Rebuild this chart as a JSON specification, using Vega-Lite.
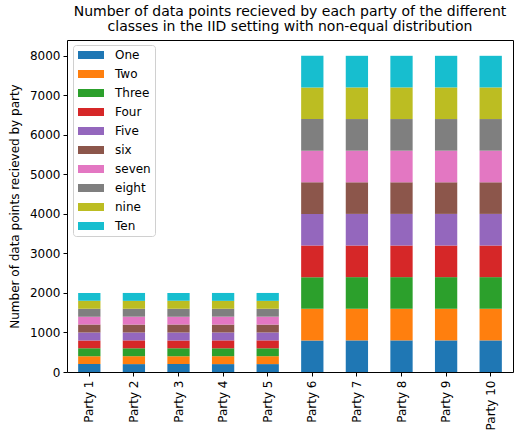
{
  "$schema": "https://vega.github.io/schema/vega-lite/v6.json",
  "width": 446,
  "height": 332,
  "autosize": {"type": "none"},
  "padding": {"left": 67, "top": 40, "right": 7, "bottom": 65},
  "background": "white",
  "config": {
    "font": "DejaVu Sans",
    "view": {"stroke": "black", "strokeWidth": 1},
    "axis": {"labelFont": "DejaVu Sans", "titleFont": "DejaVu Sans", "labelColor": "black", "titleColor": "black", "tickColor": "black", "domainColor": "black", "grid": false, "labelFontSize": 12, "titleFontSize": 12, "titleFontWeight": "normal"}
  },
  "title": {
    "text": ["Number of data points recieved by each party of the different", "classes in the IID setting with non-equal distribution"],
    "fontSize": 14, "fontWeight": "normal", "font": "DejaVu Sans", "color": "black", "anchor": "middle", "offset": 6, "lineHeight": 15
  },
  "data": {
    "values": [
      {"party":"Party 1","cls":"One","k":1,"n":200},{"party":"Party 1","cls":"Two","k":2,"n":200},{"party":"Party 1","cls":"Three","k":3,"n":200},{"party":"Party 1","cls":"Four","k":4,"n":200},{"party":"Party 1","cls":"Five","k":5,"n":200},{"party":"Party 1","cls":"six","k":6,"n":200},{"party":"Party 1","cls":"seven","k":7,"n":200},{"party":"Party 1","cls":"eight","k":8,"n":200},{"party":"Party 1","cls":"nine","k":9,"n":200},{"party":"Party 1","cls":"Ten","k":10,"n":200},
      {"party":"Party 2","cls":"One","k":1,"n":200},{"party":"Party 2","cls":"Two","k":2,"n":200},{"party":"Party 2","cls":"Three","k":3,"n":200},{"party":"Party 2","cls":"Four","k":4,"n":200},{"party":"Party 2","cls":"Five","k":5,"n":200},{"party":"Party 2","cls":"six","k":6,"n":200},{"party":"Party 2","cls":"seven","k":7,"n":200},{"party":"Party 2","cls":"eight","k":8,"n":200},{"party":"Party 2","cls":"nine","k":9,"n":200},{"party":"Party 2","cls":"Ten","k":10,"n":200},
      {"party":"Party 3","cls":"One","k":1,"n":200},{"party":"Party 3","cls":"Two","k":2,"n":200},{"party":"Party 3","cls":"Three","k":3,"n":200},{"party":"Party 3","cls":"Four","k":4,"n":200},{"party":"Party 3","cls":"Five","k":5,"n":200},{"party":"Party 3","cls":"six","k":6,"n":200},{"party":"Party 3","cls":"seven","k":7,"n":200},{"party":"Party 3","cls":"eight","k":8,"n":200},{"party":"Party 3","cls":"nine","k":9,"n":200},{"party":"Party 3","cls":"Ten","k":10,"n":200},
      {"party":"Party 4","cls":"One","k":1,"n":200},{"party":"Party 4","cls":"Two","k":2,"n":200},{"party":"Party 4","cls":"Three","k":3,"n":200},{"party":"Party 4","cls":"Four","k":4,"n":200},{"party":"Party 4","cls":"Five","k":5,"n":200},{"party":"Party 4","cls":"six","k":6,"n":200},{"party":"Party 4","cls":"seven","k":7,"n":200},{"party":"Party 4","cls":"eight","k":8,"n":200},{"party":"Party 4","cls":"nine","k":9,"n":200},{"party":"Party 4","cls":"Ten","k":10,"n":200},
      {"party":"Party 5","cls":"One","k":1,"n":200},{"party":"Party 5","cls":"Two","k":2,"n":200},{"party":"Party 5","cls":"Three","k":3,"n":200},{"party":"Party 5","cls":"Four","k":4,"n":200},{"party":"Party 5","cls":"Five","k":5,"n":200},{"party":"Party 5","cls":"six","k":6,"n":200},{"party":"Party 5","cls":"seven","k":7,"n":200},{"party":"Party 5","cls":"eight","k":8,"n":200},{"party":"Party 5","cls":"nine","k":9,"n":200},{"party":"Party 5","cls":"Ten","k":10,"n":200},
      {"party":"Party 6","cls":"One","k":1,"n":800},{"party":"Party 6","cls":"Two","k":2,"n":800},{"party":"Party 6","cls":"Three","k":3,"n":800},{"party":"Party 6","cls":"Four","k":4,"n":800},{"party":"Party 6","cls":"Five","k":5,"n":800},{"party":"Party 6","cls":"six","k":6,"n":800},{"party":"Party 6","cls":"seven","k":7,"n":800},{"party":"Party 6","cls":"eight","k":8,"n":800},{"party":"Party 6","cls":"nine","k":9,"n":800},{"party":"Party 6","cls":"Ten","k":10,"n":800},
      {"party":"Party 7","cls":"One","k":1,"n":800},{"party":"Party 7","cls":"Two","k":2,"n":800},{"party":"Party 7","cls":"Three","k":3,"n":800},{"party":"Party 7","cls":"Four","k":4,"n":800},{"party":"Party 7","cls":"Five","k":5,"n":800},{"party":"Party 7","cls":"six","k":6,"n":800},{"party":"Party 7","cls":"seven","k":7,"n":800},{"party":"Party 7","cls":"eight","k":8,"n":800},{"party":"Party 7","cls":"nine","k":9,"n":800},{"party":"Party 7","cls":"Ten","k":10,"n":800},
      {"party":"Party 8","cls":"One","k":1,"n":800},{"party":"Party 8","cls":"Two","k":2,"n":800},{"party":"Party 8","cls":"Three","k":3,"n":800},{"party":"Party 8","cls":"Four","k":4,"n":800},{"party":"Party 8","cls":"Five","k":5,"n":800},{"party":"Party 8","cls":"six","k":6,"n":800},{"party":"Party 8","cls":"seven","k":7,"n":800},{"party":"Party 8","cls":"eight","k":8,"n":800},{"party":"Party 8","cls":"nine","k":9,"n":800},{"party":"Party 8","cls":"Ten","k":10,"n":800},
      {"party":"Party 9","cls":"One","k":1,"n":800},{"party":"Party 9","cls":"Two","k":2,"n":800},{"party":"Party 9","cls":"Three","k":3,"n":800},{"party":"Party 9","cls":"Four","k":4,"n":800},{"party":"Party 9","cls":"Five","k":5,"n":800},{"party":"Party 9","cls":"six","k":6,"n":800},{"party":"Party 9","cls":"seven","k":7,"n":800},{"party":"Party 9","cls":"eight","k":8,"n":800},{"party":"Party 9","cls":"nine","k":9,"n":800},{"party":"Party 9","cls":"Ten","k":10,"n":800},
      {"party":"Party 10","cls":"One","k":1,"n":800},{"party":"Party 10","cls":"Two","k":2,"n":800},{"party":"Party 10","cls":"Three","k":3,"n":800},{"party":"Party 10","cls":"Four","k":4,"n":800},{"party":"Party 10","cls":"Five","k":5,"n":800},{"party":"Party 10","cls":"six","k":6,"n":800},{"party":"Party 10","cls":"seven","k":7,"n":800},{"party":"Party 10","cls":"eight","k":8,"n":800},{"party":"Party 10","cls":"nine","k":9,"n":800},{"party":"Party 10","cls":"Ten","k":10,"n":800}
    ]
  },
  "mark": {"type": "bar"},
  "encoding": {
    "x": {
      "field": "party", "type": "nominal",
      "sort": ["Party 1","Party 2","Party 3","Party 4","Party 5","Party 6","Party 7","Party 8","Party 9","Party 10"],
      "scale": {"paddingInner": 0.5, "paddingOuter": 0.25},
      "axis": {"title": null, "labelAngle": -90, "labelAlign": "right", "labelBaseline": "middle", "labelPadding": 4, "tickSize": 4, "domain": false}
    },
    "y": {
      "field": "n", "type": "quantitative", "aggregate": "sum", "stack": "zero",
      "scale": {"domain": [0, 8400], "nice": false, "zero": true},
      "axis": {"title": "Number of data points recieved by party", "values": [0,1000,2000,3000,4000,5000,6000,7000,8000], "format": "d", "tickSize": 4, "labelPadding": 3, "titlePadding": 8, "domain": false}
    },
    "color": {
      "field": "cls", "type": "nominal",
      "scale": {
        "domain": ["One","Two","Three","Four","Five","six","seven","eight","nine","Ten"],
        "range": ["#1f77b4","#ff7f0e","#2ca02c","#d62728","#9467bd","#8c564b","#e377c2","#7f7f7f","#bcbd22","#17becf"]
      },
      "legend": {
        "title": null, "orient": "none", "legendX": 6, "legendY": 5,
        "symbolType": "M-1,-0.8H4.2V0.8H-1Z", "symbolSize": 100, "symbolStrokeWidth": 0,
        "labelOffset": 26,
        "labelFontSize": 12, "labelFont": "DejaVu Sans", "labelColor": "black",
        "rowPadding": 7, "padding": 4, "strokeColor": "#d0d0d0", "fillColor": "white", "cornerRadius": 3
      }
    },
    "order": {"field": "k", "type": "quantitative", "sort": "ascending"}
  }
}
